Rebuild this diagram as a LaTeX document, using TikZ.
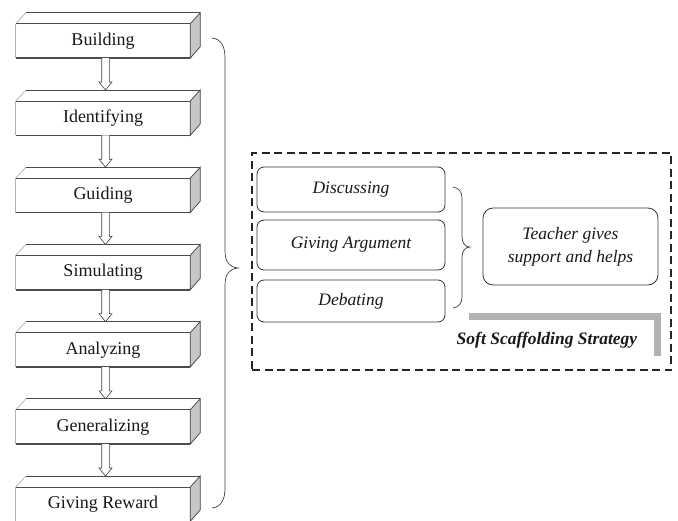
\documentclass[tikz,border=0pt]{standalone}
\usepackage{fontspec}
\setmainfont{Liberation Serif}
\usetikzlibrary{calc}
\newcommand\flowarrow[2]{%
  \draw[hollow] let \p1=(#1), \p2=(#2) in
    (\x1-1.3pt,\y1) -- (\x1-1.3pt,\y2+19pt) -- (\x1-4pt,\y2+19pt) --
    (\x1+2.5pt,\y2+11pt) -- (\x1+9pt,\y2+19pt) -- (\x1+6.3pt,\y2+19pt) --
    (\x1+6.3pt,\y1);}
\begin{document}
\begin{tikzpicture}[x=1pt,y=-1pt,
  stepbox/.style={fill=white, minimum width=174pt,
    minimum height=34pt, inner sep=0pt, text=black!90, font=\fontsize{18}{20}\selectfont},
  darkedge/.style={draw=black!70, line width=0.9pt},
  lightedge/.style={draw=black!30, line width=0.7pt},
  sideface/.style={draw=black!75, line width=0.7pt, fill=black!22},
  hollow/.style={draw=black!75, line width=0.6pt, fill=white},
  actbox/.style={draw=black!80, line width=0.8pt, rounded corners=7pt, minimum width=188pt,
    inner sep=0pt, text=black!90, font=\fontsize{17.5}{20}\selectfont\itshape},
  brace/.style={draw=black!75, line width=0.7pt},
]
\useasboundingbox (0,0) rectangle (678,520);

% left column of 3D steps
\foreach \n/\t [count=\i from 0] in {b1/Building, b2/Identifying, b3/Guiding, b4/Simulating, b5/Analyzing, b6/Generalizing, b7/Giving Reward} {
  \node[stepbox] (\n) at (103, 41+77.2*\i) {\t};
  \fill[white] (\n.north west) -- ++(10,-11) -- ($(\n.north east)+(10,-11)$) -- (\n.north east) -- cycle;
  \draw[lightedge] (\n.north west) -- ++(10,-11);
  \draw[darkedge] ($(\n.north west)+(10,-11)$) -- ($(\n.north east)+(10,-11)$);
  \draw[sideface] (\n.north east) -- ++(10,-11) -- ++(0,34) -- (\n.south east) -- cycle;
  \draw[lightedge] (\n.north west) -- (\n.south west);
  \draw[darkedge] (\n.north west) -- (\n.north east);
  \draw[draw=black!70, line width=1.5pt] (\n.south west) -- (\n.south east);
}
\flowarrow{b1.south}{b2.north}
\flowarrow{b2.south}{b3.north}
\flowarrow{b3.south}{b4.north}
\flowarrow{b4.south}{b5.north}
\flowarrow{b5.south}{b6.north}
\flowarrow{b6.south}{b7.north}

% big brace
\draw[brace] (212,38) .. controls (221,39) and (225,46) .. (225,58) -- (225,250)
  .. controls (225,262) and (229,267) .. (238,268)
  .. controls (229,269) and (225,274) .. (225,286) -- (225,488)
  .. controls (225,500) and (221,507) .. (212,508);

% dashed frame
\node[draw=black!85, line width=2pt, dash pattern=on 8pt off 4.5pt, minimum width=419pt,
  minimum height=217pt, inner sep=0pt] (frame) at (461.5,261.5) {};

\node[actbox, minimum height=45pt] (disc) at (351,189.5) {Discussing};
\node[actbox, minimum height=50pt] (arg) at (351,245) {Giving Argument};
\node[actbox, minimum height=42pt] (deb) at (351,301) {Debating};

% small brace
\draw[brace] (453,187) .. controls (459,188) and (462,192) .. (462,198) -- (462,236)
  .. controls (462,243) and (465,247) .. (470,247)
  .. controls (465,247) and (462,251) .. (462,258) -- (462,297)
  .. controls (462,303) and (459,307) .. (453,308);

\node[draw=black!80, line width=0.8pt, rounded corners=10pt, minimum width=175pt,
  minimum height=77pt, align=center, text=black!90,
  font=\fontsize{17.5}{23}\selectfont\itshape] (teach) at (570.5,246.5) {Teacher gives\\support and helps};

% gray L
\draw[line width=7pt, draw=black!30, miter limit=10] (469,316) -- (657,316) -- (657,356);
\node[text=black!90, font=\fontsize{17.5}{20}\selectfont\bfseries\itshape] (soft) at (547,340) {Soft Scaffolding Strategy};
\end{tikzpicture}
\end{document}
